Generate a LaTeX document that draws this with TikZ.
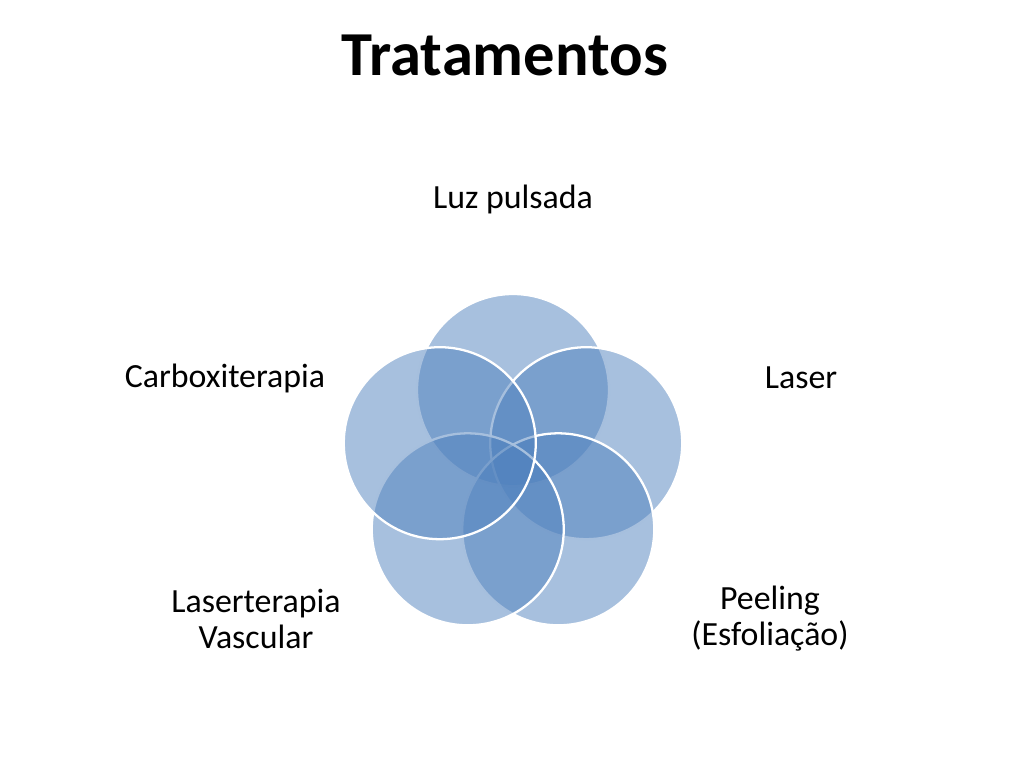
\documentclass[tikz,border=0pt]{standalone}
\usepackage{fontspec}
\setmainfont{Carlito}
\usepackage{tikz}
\usetikzlibrary{positioning}

\definecolor{accent}{RGB}{79,129,189}

\begin{document}
\begin{tikzpicture}[x=0.703125pt, y=-0.703125pt,
    ring/.style={circle, inner sep=0pt, minimum size=135pt, fill=accent,
        fill opacity=0.5, draw=white, line width=1.6pt},
    lbl/.style={align=center, font=\fontsize{23.8}{25.3}\selectfont}]
    % page
    \useasboundingbox (0,0) rectangle (1024,768);
    % title
    \node[font=\fontsize{44}{50}\bfseries\selectfont] (title) at (505,55) {Tratamentos};
    % circles
    \foreach \ang/\nm in {90/top, 18/right, -54/botright, -126/botleft, 162/left}
        \node[ring] (\nm) at ({513+77*cos(\ang)}, {467-77*sin(\ang)}) {};
    % labels
    \node[lbl] (luz) at (513,199) {Luz pulsada};
    \node[lbl] (laser) at (801,378) {Laser};
    \node[lbl] (carbo) at (225,378) {Carboxiterapia};
    \node[lbl] (vasc) at (256,619) {Laserterapia\\Vascular};
    \node[lbl] (peel) at (770,619) {Peeling\\(Esfoliação)};
\end{tikzpicture}
\end{document}
